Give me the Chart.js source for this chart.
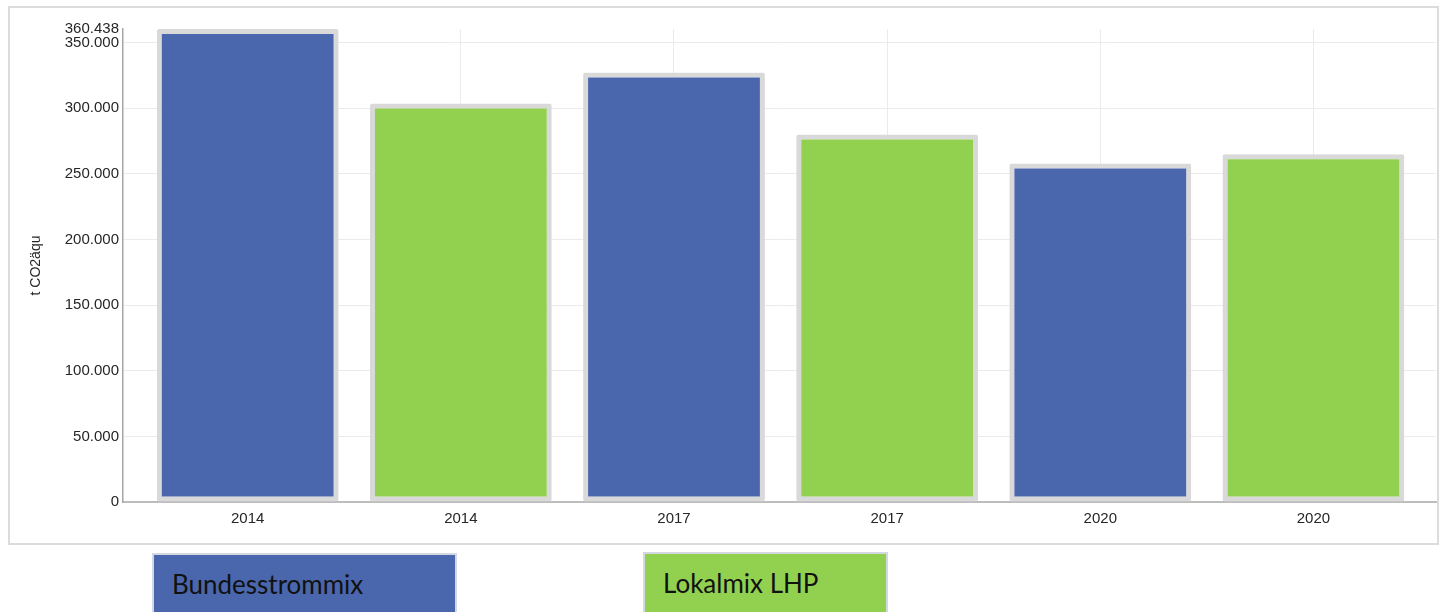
<!DOCTYPE html>
<html>
<head>
<meta charset="utf-8">
<script src="https://cdn.jsdelivr.net/npm/chart.js@4.4.1/dist/chart.umd.min.js"></script>
<style>
  html, body { margin: 0; padding: 0; background: #fff; overflow: hidden; }
  body { width: 1441px; height: 612px; position: relative; }
  #frame {
    position: absolute; left: 8px; top: 6px; width: 1431px; height: 539px;
    border: 2px solid #dcdcdc; box-sizing: border-box;
  }
  #frame canvas { position: absolute; left: 0; top: 0; }
  .legend-box {
    position: absolute; top: 553px; height: 70px; box-sizing: border-box;
    border: 2px solid #d4d8e0; font-family: Lato, "Noto Sans", sans-serif;
    font-size: 26px; color: #111; padding: 13px 0 0 18px;
  }
</style>
</head>
<body>
<div id="frame"><canvas id="barChart" width="1427" height="535"></canvas></div>
<div class="legend-box" style="left:152px; width:305px; background:#4a66ac;">Bundesstrommix</div>
<div class="legend-box" style="left:643px; top:552px; width:245px; background:#92d050;">Lokalmix LHP</div>

<script>
// categories (year labels under each bar)
const categories = ["2014", "2014", "2017", "2017", "2020", "2020"];

// t CO2aequ per year
const bundesValues = [360438, 327200, 257900];
const lokalValues = [303600, 280000, 265000];
const bundesIndex = [0, 2, 4];
const lokalIndex = [1, 3, 5];

const yMax = 360438;
const yTicks = [0, 50000, 100000, 150000, 200000, 250000, 300000, 350000, 360438];

const fmt = (v) => String(v).replace(/\B(?=(\d{3})+(?!\d))/g, ".");

const tickFont = { family: "'Liberation Sans', Arial, sans-serif", size: 15 };

new Chart(document.getElementById("barChart"), {
  type: "bar",
  data: {
    datasets: [
      {
        label: "Bundesstrommix",
        data: bundesIndex.map((x, i) => ({ x: x, y: bundesValues[i] })),
        backgroundColor: "#4a66ac",
        borderColor: "#d9d9d9",
        borderWidth: 5,
        borderRadius: 2,
        borderSkipped: false
      },
      {
        label: "Lokalmix LHP",
        data: lokalIndex.map((x, i) => ({ x: x, y: lokalValues[i] })),
        backgroundColor: "#92d050",
        borderColor: "#d9d9d9",
        borderWidth: 5,
        borderRadius: 2,
        borderSkipped: false
      }
    ]
  },
  options: {
    responsive: false,
    animation: false,
    grouped: false,
    categoryPercentage: 1,
    barPercentage: 0.853,
    layout: { padding: { top: 21, right: 1, bottom: 0, left: 0 } },
    plugins: { legend: { display: false }, tooltip: { enabled: false } },
    scales: {
      x: {
        type: "linear",
        offset: false,
        min: -0.585,
        max: 5.575,
        afterBuildTicks: (s) => { s.ticks = categories.map((c, i) => ({ value: i })); },
        afterFit: (s) => { s.height = 41; },
        ticks: {
          autoSkip: false,
          maxRotation: 0,
          padding: 8,
          color: "#262626",
          font: tickFont,
          callback: (v) => categories[v]
        },
        grid: { color: "#ebebeb", lineWidth: 1, drawTicks: false, offset: false },
        border: { color: "#bdbdbd", width: 2 }
      },
      y: {
        min: 0,
        max: yMax,
        afterBuildTicks: (s) => { s.ticks = yTicks.map((v) => ({ value: v })); },
        afterFit: (s) => { s.width = 113; },
        ticks: {
          autoSkip: false,
          padding: 4,
          color: "#262626",
          font: tickFont,
          callback: (v) => fmt(v)
        },
        grid: {
          color: (ctx) => (ctx.tick && ctx.tick.value === yMax ? "rgba(0,0,0,0)" : "#ebebeb"),
          lineWidth: 1,
          drawTicks: false
        },
        border: { color: "#a6a6a6", width: 1.5 },
        title: {
          display: true,
          text: "t CO2äqu",
          color: "#262626",
          font: { family: "'Liberation Sans', Arial, sans-serif", size: 14 },
          padding: { top: 18, bottom: 0 }
        }
      }
    }
  }
});
</script>
</body>
</html>
